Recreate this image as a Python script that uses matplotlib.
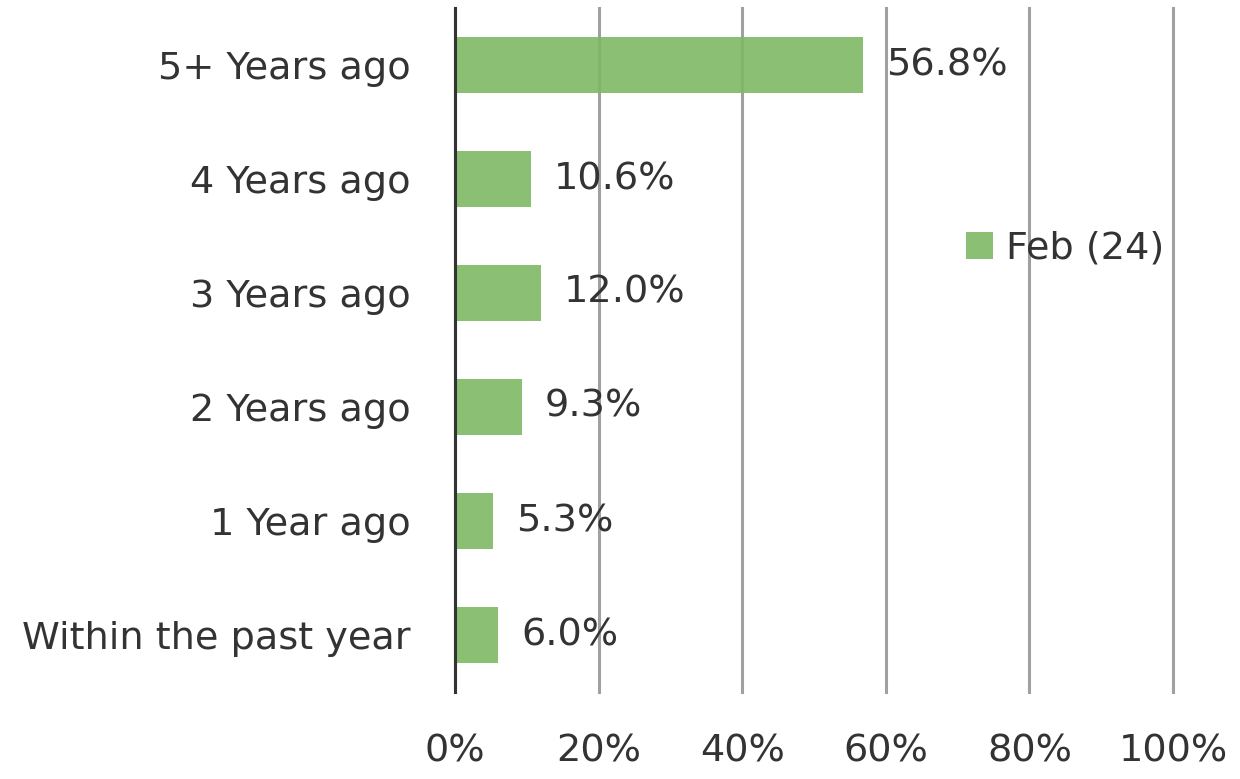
import matplotlib
matplotlib.use("Agg")
import matplotlib.pyplot as plt
from matplotlib.ticker import FuncFormatter
from matplotlib.patches import Patch

categories = ["Within the past year", "1 Year ago", "2 Years ago", "3 Years ago", "4 Years ago", "5+ Years ago"]
values = [6.0, 5.3, 9.3, 12.0, 10.6, 56.8]
series_name = "Feb (24)"
xticks = [0, 20, 40, 60, 80, 100]

plt.rcParams['font.family'] = ['DejaVu Sans']
FS = 27.5
TXT = '#333333'
BAR = '#7DB865'

fig = plt.figure(figsize=(12.4, 7.79), dpi=100)
ax = fig.add_axes([455/1240, 1-692/779, 718/1240, 684/779])

ypos = list(range(len(categories)))
ax.barh(ypos, values, height=0.49, color=BAR, alpha=0.9, zorder=3)
for y, v in zip(ypos, values):
    ax.text(v + 3.2, y, f"{v:.1f}%", va='center', ha='left', fontsize=FS, color=TXT, zorder=4)

ax.set_xlim(0, 100)
ax.set_ylim(-0.5, len(categories) - 0.5)
ax.set_xticks(xticks)
ax.xaxis.set_major_formatter(FuncFormatter(lambda x, p: f"{x:.0f}%"))
ax.set_yticks(ypos)
ax.set_yticklabels(categories)
ax.tick_params(axis='both', length=0, labelsize=FS, colors=TXT)
ax.tick_params(axis='y', pad=32)
ax.tick_params(axis='x', pad=30)
for s in ['top', 'right', 'bottom']:
    ax.spines[s].set_visible(False)
ax.spines['left'].set_color('#333333')
ax.spines['left'].set_linewidth(2.2)
ax.spines['left'].set_zorder(5)
ax.grid(axis='x', color='#A0A0A0', linewidth=2.2, zorder=1)
for gl in ax.get_xgridlines():
    gl.set_clip_on(False)
ax.set_axisbelow(True)

handles = [Patch(facecolor=BAR, alpha=0.9, label=series_name)]
leg = fig.legend(handles=handles, loc='center left', bbox_to_anchor=(966/1240, 1-249/779),
                 frameon=False, fontsize=FS, handlelength=0.7, handleheight=0.7,
                 handletextpad=0.35, borderaxespad=0, borderpad=0, labelcolor=TXT)

fig.savefig("out.png", dpi=100)
